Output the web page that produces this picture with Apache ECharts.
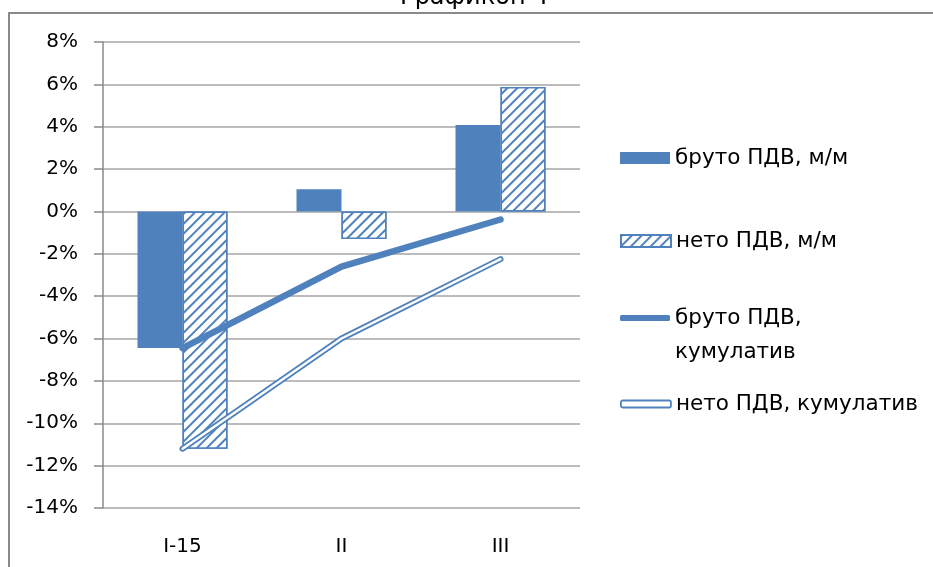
<!DOCTYPE html>
<html>
<head>
<meta charset="utf-8">
<script src="https://cdn.jsdelivr.net/npm/echarts@6/dist/echarts.min.js"></script>
<style>
  html, body { margin: 0; padding: 0; background: #fff; overflow: hidden; }
  #chart { width: 933px; height: 567px; }
</style>
</head>
<body>
<div id="chart"></div>
<script>
// chart data
var categories = ['I-15', 'II', 'III'];
var grossMoM = [-6.45, 1.05, 4.08];
var netMoM = [-11.2, -1.3, 5.87];
var grossCum = [-6.45, -2.6, -0.38];
var netCum = [-11.2, -6.0, -2.25];
var seriesNames = ['бруто ПДВ, м/м', 'нето ПДВ, м/м', 'бруто ПДВ, кумулатив', 'нето ПДВ, кумулатив'];

var BLUE = '#4F81BD';
var FONT = 'DejaVu Sans';
var hatch = {
  symbol: 'rect',
  color: BLUE,
  backgroundColor: '#fff',
  dashArrayX: [1, 0],
  dashArrayY: [2, 4.6],
  rotation: -Math.PI / 4
};

var legendBase = {
  orient: 'vertical',
  left: 620,
  padding: 0,
  itemWidth: 50,
  itemGap: 0,
  textStyle: { fontFamily: FONT, fontSize: 21.5, color: '#000' }
};

var chart = echarts.init(document.getElementById('chart'), null, { renderer: 'canvas' });
chart.setOption({
  animation: false,
  title: {
    text: 'Графикон 4',
    left: 395,
    top: -19,
    textStyle: { fontFamily: FONT, fontSize: 24, fontWeight: 'normal', color: '#000' }
  },
  graphic: [
    {
      type: 'polyline',
      shape: { points: [[9, 600], [9, 13], [933, 13]] },
      style: { stroke: '#8a8a8a', lineWidth: 2, fill: null }
    }
  ],
  grid: { left: 103, right: 353, top: 42, bottom: 59 },
  legend: [
    Object.assign({}, legendBase, {
      top: 147, itemHeight: 12,
      data: [{ name: seriesNames[0], icon: 'rect' }]
    }),
    Object.assign({}, legendBase, {
      top: 230, itemHeight: 12,
      data: [{ name: seriesNames[1], icon: 'rect' }]
    }),
    Object.assign({}, legendBase, {
      top: 267, itemHeight: 6,
      formatter: function () { return ' \nбруто ПДВ,\nкумулатив'; },
      textStyle: { fontFamily: FONT, fontSize: 21.5, color: '#000', lineHeight: 34 },
      data: [{ name: seriesNames[2], icon: 'roundRect', itemStyle: { color: BLUE, borderWidth: 0 } }]
    }),
    Object.assign({}, legendBase, {
      top: 393, itemHeight: 7,
      data: [{ name: seriesNames[3], icon: 'roundRect', itemStyle: { color: '#fff', borderColor: BLUE, borderWidth: 1.8 } }]
    })
  ],
  xAxis: {
    type: 'category',
    data: categories,
    axisLine: { show: false },
    axisTick: { show: false },
    axisLabel: { margin: 29, fontFamily: FONT, fontSize: 20, color: '#000' }
  },
  yAxis: {
    type: 'value',
    min: -14,
    max: 8,
    interval: 2,
    axisLine: { show: true, lineStyle: { color: '#8a8a8a', width: 1.5 } },
    axisTick: { show: true, length: 9, lineStyle: { color: '#8a8a8a', width: 1.5 } },
    splitLine: { lineStyle: { color: '#a6a6a6', width: 1.5 } },
    axisLabel: { margin: 25, fontFamily: FONT, fontSize: 20, color: '#000', formatter: '{value}%' }
  },
  series: [
    {
      name: seriesNames[0], type: 'bar', data: grossMoM,
      barWidth: 45, barGap: '0%',
      itemStyle: { color: BLUE }
    },
    {
      name: seriesNames[1], type: 'bar', data: netMoM,
      barWidth: 45,
      itemStyle: { color: '#fff', borderColor: BLUE, borderWidth: 1.5, decal: hatch }
    },
    {
      name: seriesNames[2], type: 'line', data: grossCum,
      symbol: 'none', z: 3,
      lineStyle: { color: BLUE, width: 6.5, cap: 'round', join: 'round' },
      itemStyle: { color: BLUE }
    },
    {
      name: seriesNames[3], type: 'line', data: netCum,
      symbol: 'none', z: 3,
      lineStyle: { color: BLUE, width: 6, cap: 'round', join: 'round' },
      itemStyle: { color: BLUE }
    },
    {
      name: 'netCumInner', type: 'line', data: netCum,
      symbol: 'none', z: 4, silent: true,
      lineStyle: { color: '#fff', width: 2.4, cap: 'round', join: 'round' }
    }
  ]
});
</script>
</body>
</html>
